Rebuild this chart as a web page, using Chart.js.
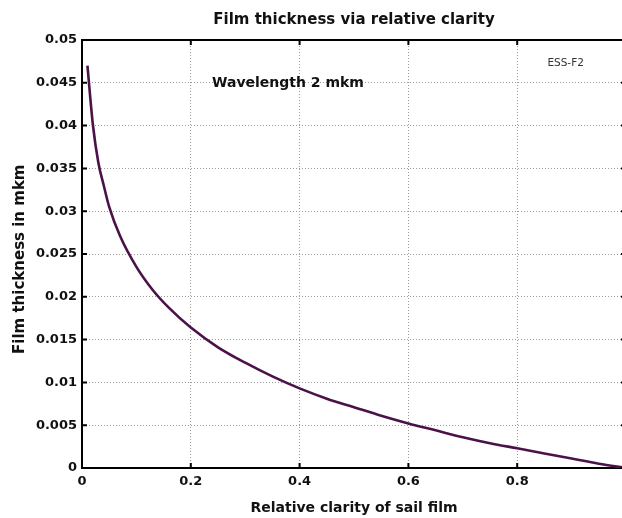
<!DOCTYPE html>
<html>
<head>
<meta charset="utf-8">
<script src="https://cdn.jsdelivr.net/npm/chart.js@4.4.1/dist/chart.umd.min.js"></script>
<style>
  html, body { margin: 0; padding: 0; background: #fff; overflow: hidden; }
  #wrap { width: 622px; height: 518px; overflow: hidden; }
</style>
</head>
<body>
<div id="wrap"><canvas id="myChart" width="640" height="518"></canvas></div>
<script>
const clarity = [0.01, 0.02, 0.03, 0.04, 0.05, 0.07, 0.1, 0.13, 0.16, 0.2, 0.25, 0.3, 0.35, 0.4,
  0.45, 0.5, 0.55, 0.6, 0.65, 0.7, 0.75, 0.8, 0.85, 0.9, 0.95, 1.0];
const thickness = [0.047, 0.0401, 0.0357, 0.0330, 0.0305, 0.0271, 0.0235, 0.0208, 0.0187, 0.0164,
  0.0141, 0.0123, 0.0107, 0.0093, 0.0081, 0.0071, 0.0061, 0.0052, 0.0044, 0.0036, 0.0029,
  0.0023, 0.0017, 0.0011, 0.0005, 0];
const xTicks = [0, 0.2, 0.4, 0.6, 0.8, 1];
const yTicks = [0, 0.005, 0.01, 0.015, 0.02, 0.025, 0.03, 0.035, 0.04, 0.045, 0.05];

const FONT = "'DejaVu Sans', sans-serif";

// frame on top/right plus inward ticks and the two text notes
const framePlugin = {
  id: "frame",
  afterDraw(chart) {
    const { ctx, chartArea: a, scales } = chart;
    const x = scales.x, y = scales.y;
    ctx.save();
    ctx.strokeStyle = "#000";
    ctx.lineWidth = 2;
    ctx.beginPath();
    ctx.moveTo(a.left - 1, a.top);
    ctx.lineTo(a.right, a.top);
    ctx.lineTo(a.right, a.bottom);
    ctx.stroke();
    ctx.beginPath();
    xTicks.forEach((v) => {
      const px = x.getPixelForValue(v);
      ctx.moveTo(px, a.bottom);
      ctx.lineTo(px, a.bottom - 5);
      ctx.moveTo(px, a.top);
      ctx.lineTo(px, a.top + 5);
    });
    yTicks.forEach((v) => {
      const py = y.getPixelForValue(v);
      ctx.moveTo(a.left, py);
      ctx.lineTo(a.left + 5, py);
      ctx.moveTo(a.right, py);
      ctx.lineTo(a.right - 5, py);
    });
    ctx.stroke();

    ctx.fillStyle = "#111";
    ctx.textBaseline = "middle";
    ctx.textAlign = "left";
    ctx.font = "bold 14px " + FONT;
    ctx.fillText("Wavelength 2 mkm", x.getPixelForValue(0.239), y.getPixelForValue(0.0449));
    ctx.fillStyle = "#333";
    ctx.textAlign = "center";
    ctx.font = "10.5px " + FONT;
    ctx.fillText("ESS-F2", x.getPixelForValue(0.889), y.getPixelForValue(0.0473));
    ctx.restore();
  },
};

const points = clarity.map((c, i) => ({ x: c, y: thickness[i] }));

new Chart(document.getElementById("myChart"), {
  type: "line",
  data: {
    datasets: [
      {
        data: points,
        borderColor: "#4a1248",
        borderWidth: 2.6,
        pointRadius: 0,
        cubicInterpolationMode: "monotone",
        fill: false,
      },
    ],
  },
  options: {
    responsive: false,
    animation: false,
    layout: { padding: { left: 0, right: 14, top: 0, bottom: 0 } },
    plugins: {
      legend: { display: false },
      tooltip: { enabled: false },
      title: {
        display: true,
        text: "Film thickness via relative clarity",
        fullSize: false,
        color: "#111",
        font: { family: FONT, size: 15, weight: "bold" },
        padding: { top: 11, bottom: 11 },
      },
    },
    scales: {
      x: {
        type: "linear",
        min: 0,
        max: 1,
        afterBuildTicks: (scale) => {
          scale.ticks = xTicks.map((v) => ({ value: v }));
        },
        afterFit: (scale) => {
          scale.height = 50;
        },
        ticks: {
          color: "#111",
          padding: 6,
          maxRotation: 0,
          font: { family: FONT, size: 13, weight: "bold" },
          callback: (v) => String(+v.toFixed(2)),
        },
        grid: { color: "#9a9a9a", lineWidth: 1, drawTicks: false },
        border: { color: "#000", width: 2, dash: [1, 2] },
        title: {
          display: true,
          text: "Relative clarity of sail film",
          color: "#111",
          font: { family: FONT, size: 14, weight: "bold" },
          padding: { top: 0, bottom: 1 },
        },
      },
      y: {
        type: "linear",
        min: 0,
        max: 0.05,
        afterBuildTicks: (scale) => {
          scale.ticks = yTicks.map((v) => ({ value: v }));
        },
        afterFit: (scale) => {
          scale.width = 82;
        },
        ticks: {
          color: "#111",
          padding: 5,
          font: { family: FONT, size: 13, weight: "bold" },
          callback: (v) => String(+v.toFixed(3)),
        },
        grid: { color: "#9a9a9a", lineWidth: 1, drawTicks: false },
        border: { color: "#000", width: 2, dash: [1, 2] },
        title: {
          display: true,
          text: "Film thickness in mkm  ",
          color: "#111",
          font: { family: FONT, size: 15, weight: "bold" },
          padding: { top: 11, bottom: 0 },
        },
      },
    },
  },
  plugins: [framePlugin],
});
</script>
</body>
</html>
